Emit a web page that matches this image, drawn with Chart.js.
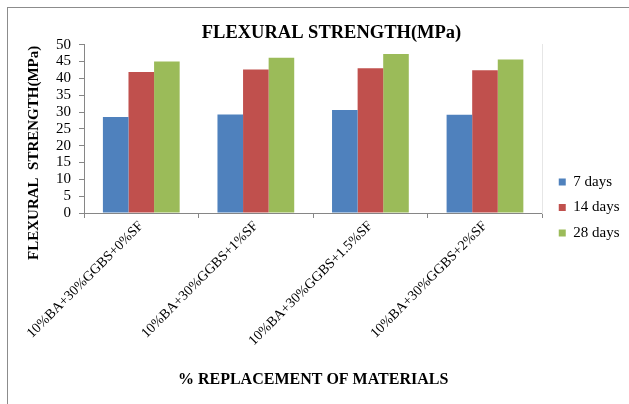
<!DOCTYPE html>
<html>
<head>
<meta charset="utf-8">
<title>Flexural strength</title>
<script src="https://cdn.jsdelivr.net/npm/chart.js@4/dist/chart.umd.min.js"></script>
<style>
  html, body { margin: 0; padding: 0; background: #fff; overflow: hidden; width: 629px; height: 404px; }
  #frame { position: absolute; left: 7px; top: 7px; width: 647px; height: 400px; border: 1px solid #8c8c8c; background: #fff; }
  canvas { display: block; }
</style>
</head>
<body>
<div id="frame"><canvas id="chart" width="647" height="400"></canvas></div>
<script>
// Mix designs and flexural strength (MPa) at each curing age
const categories = ['10%BA+30%GGBS+0%SF', '10%BA+30%GGBS+1%SF', '10%BA+30%GGBS+1.5%SF', '10%BA+30%GGBS+2%SF'];
const seriesNames = ['7 days', '14 days', '28 days'];
const days7 = [28.5, 29.3, 30.6, 29.2];
const days14 = [41.9, 42.6, 43.0, 42.4];
const days28 = [45.0, 46.1, 47.2, 45.6];
const yTickValues = [0, 5, 10, 15, 20, 25, 30, 35, 40, 45, 50];

const chartTitle = 'FLEXURAL STRENGTH(MPa)';
const yAxisTitle = 'FLEXURAL  STRENGTH(MPa)';
const xAxisTitle = '% REPLACEMENT OF MATERIALS';

const seriesColors = ['#4F81BD', '#C0504D', '#9BBB59'];
const axisGray = '#868686';

Chart.defaults.font.family = '"Liberation Serif", "Times New Roman", serif';
Chart.defaults.color = '#000';

// Rotated value-axis title, sitting left of the tick labels
const yTitlePlugin = {
  id: 'yAxisTitle',
  afterDraw(chart) {
    const { ctx, chartArea } = chart;
    ctx.save();
    ctx.font = 'bold 15px "Liberation Serif", "Times New Roman", serif';
    ctx.fillStyle = '#000';
    ctx.textAlign = 'center';
    ctx.textBaseline = 'middle';
    ctx.translate(chartArea.left - 50, (chartArea.top + chartArea.bottom) / 2 + 24);
    ctx.rotate(-Math.PI / 2);
    ctx.fillText(yAxisTitle, 0, 0);
    ctx.restore();
  }
};

const seriesData = [days7, days14, days28];

new Chart(document.getElementById('chart'), {
  type: 'bar',
  data: {
    labels: categories,
    datasets: seriesNames.map((name, i) => ({
      label: name,
      data: seriesData[i],
      backgroundColor: seriesColors[i],
      borderWidth: 0,
      barPercentage: 1,
      categoryPercentage: 0.67
    }))
  },
  options: {
    responsive: false,
    animation: false,
    layout: { padding: { left: 25.5, right: 25.5, top: 0, bottom: 1 } },
    plugins: {
      title: {
        display: true,
        text: chartTitle,
        font: { size: 18.5, weight: 'bold' },
        color: '#000',
        padding: { top: 14.5, bottom: 0 }
      },
      legend: {
        position: 'right',
        align: 'center',
        labels: { boxWidth: 7, boxHeight: 7, padding: 10.5, font: { size: 15 }, color: '#000' }
      },
      tooltip: { enabled: false }
    },
    scales: {
      x: {
        grid: { display: true, drawOnChartArea: false, drawTicks: true, tickLength: 5, color: axisGray, offset: true },
        border: { color: axisGray },
        ticks: { autoSkip: false, minRotation: 45, maxRotation: 45, font: { size: 14 }, color: '#000', padding: 0 },
        title: { display: true, text: xAxisTitle, font: { size: 16, weight: 'bold' }, color: '#000', padding: { top: 0, bottom: 17.4 } },
        afterFit(s) { s.height = 194; s.paddingLeft = 0; s.paddingRight = 0; }
      },
      y: {
        min: 0,
        max: 50,
        afterBuildTicks(s) { s.ticks = yTickValues.map(v => ({ value: v })); },
        ticks: { autoSkip: false, font: { size: 15 }, color: '#000', padding: 8 },
        grid: { drawOnChartArea: false, drawTicks: true, tickLength: 5, color: axisGray },
        border: { color: axisGray },
        afterFit(s) { s.width = 50.5; }
      },
      yEdge: {
        type: 'linear',
        position: 'right',
        display: true,
        grid: { display: false },
        ticks: { display: false },
        border: { display: true, color: '#e6e6e6' },
        afterFit(s) { s.width = 6; }
      }
    }
  },
  plugins: [yTitlePlugin]
});
</script>
</body>
</html>
